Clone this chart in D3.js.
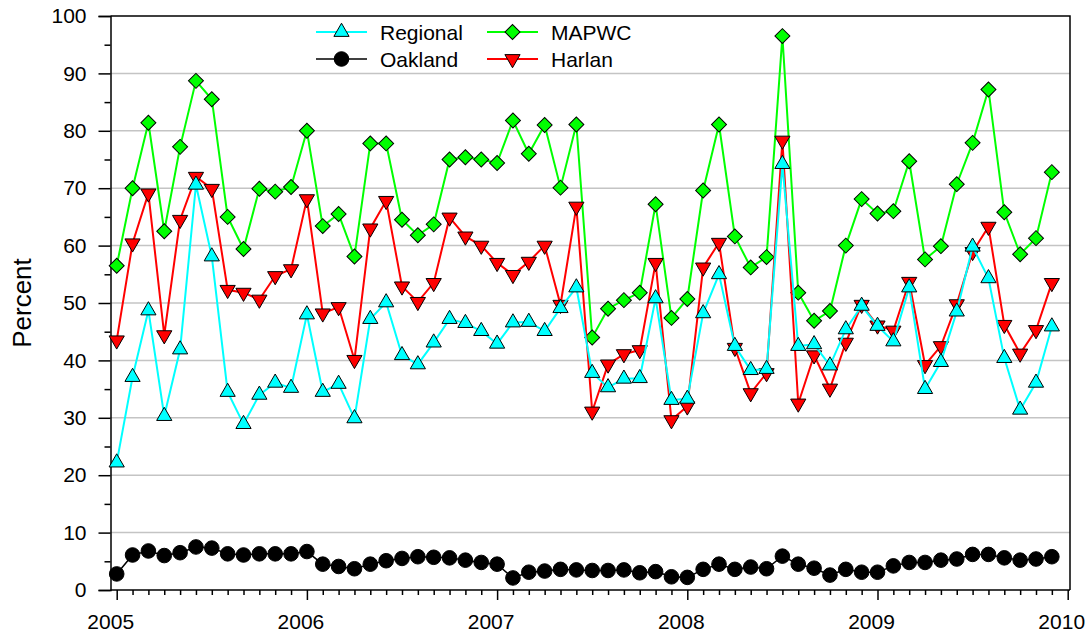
<!DOCTYPE html>
<html>
<head>
<meta charset="utf-8">
<script src="https://cdn.jsdelivr.net/npm/d3@7"></script>
<style>
  body { margin: 0; background: #fff; }
  svg { font-family: "Liberation Sans", Arial, sans-serif; }
</style>
</head>
<body>
<svg width="1091" height="635"></svg>
<script>
const svg = d3.select('svg');

// monthly values, Jan 2005 .. Dec 2009
const regional = [
  22.2, 37.1, 48.7, 30.3, 41.9, 70.6, 58.1, 34.5, 28.9, 34.0, 36.1, 35.2,
  48.0, 34.5, 35.9, 29.9, 47.2, 50.1, 40.9, 39.3, 43.1, 47.2, 46.5, 45.1,
  42.9, 46.6, 46.7, 45.1, 49.1, 52.7, 37.8, 35.3, 36.8, 36.9, 50.8, 33.1,
  33.3, 48.2, 55.0, 42.5, 38.3, 38.5, 74.2, 42.5, 42.8, 39.1, 45.4, 49.5,
  46.0, 43.3, 52.7, 35.0, 39.7, 48.5, 59.8, 54.3, 40.4, 31.4, 36.1, 45.9
];
const mapwc = [
  56.5, 70.0, 81.4, 62.5, 77.2, 88.7, 85.5, 65.0, 59.4, 69.9, 69.4, 70.2,
  80.0, 63.4, 65.5, 58.1, 77.8, 77.8, 64.5, 61.8, 63.7, 75.0, 75.4, 75.0,
  74.4, 81.8, 76.0, 81.0, 70.1, 81.1, 44.0, 49.0, 50.5, 51.8, 67.2, 47.4,
  50.7, 69.6, 81.1, 61.6, 56.2, 58.0, 96.5, 51.8, 46.9, 48.6, 60.0, 68.1,
  65.6, 66.0, 74.7, 57.6, 59.9, 70.7, 77.9, 87.2, 65.8, 58.5, 61.3, 72.8
];
const oakland = [
  2.8, 6.1, 6.8, 6.0, 6.5, 7.5, 7.3, 6.3, 6.1, 6.3, 6.3, 6.3,
  6.7, 4.5, 4.1, 3.7, 4.5, 5.1, 5.5, 5.8, 5.7, 5.6, 5.2, 4.8,
  4.5, 2.1, 3.1, 3.3, 3.6, 3.5, 3.4, 3.4, 3.5, 3.0, 3.2, 2.3,
  2.2, 3.6, 4.5, 3.6, 4.0, 3.7, 5.9, 4.5, 3.8, 2.6, 3.6, 3.1,
  3.1, 4.2, 4.8, 4.8, 5.2, 5.4, 6.2, 6.2, 5.6, 5.2, 5.4, 5.8
];
const harlan = [
  43.5, 60.4, 69.1, 44.4, 64.5, 72.0, 69.9, 52.3, 51.8, 50.6, 54.7, 55.9,
  68.1, 48.2, 49.3, 40.1, 63.0, 67.8, 52.9, 50.2, 53.5, 64.9, 61.6, 60.0,
  57.0, 54.9, 57.2, 60.0, 49.7, 66.8, 31.1, 39.3, 41.1, 41.8, 57.0, 29.6,
  32.0, 56.2, 60.5, 42.2, 34.3, 37.8, 78.3, 32.5, 40.9, 35.1, 43.1, 49.7,
  46.1, 45.2, 53.7, 39.2, 42.5, 49.8, 58.9, 63.3, 46.2, 41.2, 45.3, 53.5
];
const yearTicks = [2005, 2006, 2007, 2008, 2009, 2010];
const yTicks = [0, 10, 20, 30, 40, 50, 60, 70, 80, 90, 100];

const months = d3.range(regional.length).map(i => 2005 + i / 12);

const plot = { left: 110.5, right: 1070, top: 16, bottom: 590 };

const xScale = d3.scaleLinear().domain([2005, 2010]).range([116.7, 1067.7]);
const yScale = d3.scaleLinear().domain([0, 100]).range([plot.bottom, plot.top]);

// grid lines
svg.append('g')
  .selectAll('line')
  .data(yTicks.filter(d => d > 0 && d < 100))
  .join('line')
  .attr('x1', plot.left).attr('x2', plot.right)
  .attr('y1', d => yScale(d)).attr('y2', d => yScale(d))
  .attr('stroke', '#c4c4c4')
  .attr('stroke-width', 1.5);

// frame top + right
svg.append('path')
  .attr('d', `M${plot.left},${plot.top}H${plot.right}V${plot.bottom}`)
  .attr('fill', 'none')
  .attr('stroke', 'black')
  .attr('stroke-width', 1.5);

// y axis
const yAxis = d3.axisLeft(yScale).tickValues(yTicks).tickSize(12).tickPadding(12);
const yAxisG = svg.append('g')
  .attr('transform', `translate(${plot.left},0)`)
  .call(yAxis);
yAxisG.select('.domain').attr('stroke-width', 1.5);
yAxisG.selectAll('.tick line').attr('stroke-width', 1.5);
yAxisG.selectAll('.tick text').attr('font-size', 21).attr('font-family', '"Liberation Sans", Arial, sans-serif');

const yMinor = d3.axisLeft(yScale).tickValues(d3.range(5, 100, 10)).tickSize(6).tickFormat('');
svg.append('g')
  .attr('transform', `translate(${plot.left},0)`)
  .call(yMinor)
  .call(g => g.select('.domain').remove())
  .selectAll('.tick line').attr('stroke-width', 1.5);

// x axis
const xAxisG = svg.append('g')
  .attr('transform', `translate(0,${plot.bottom})`)
  .call(d3.axisBottom(xScale).tickValues(yearTicks).tickFormat(d3.format('d')).tickSize(10).tickPadding(14));
xAxisG.select('.domain').attr('d', `M${plot.left},0H${plot.right}`).attr('stroke-width', 1.5);
xAxisG.selectAll('.tick line').attr('stroke-width', 1.5);
xAxisG.selectAll('.tick text')
  .attr('font-size', 21)
  .attr('font-family', '"Liberation Sans", Arial, sans-serif')
  .attr('dx', -6.5);

const xMinor = d3.axisBottom(xScale)
  .tickValues(months.filter((d, i) => i % 12 !== 0))
  .tickSize(5).tickFormat('');
svg.append('g')
  .attr('transform', `translate(0,${plot.bottom})`)
  .call(xMinor)
  .call(g => g.select('.domain').remove())
  .selectAll('.tick line').attr('stroke-width', 1.5);

// y label
svg.append('text')
  .attr('transform', `translate(31,303) rotate(-90)`)
  .attr('text-anchor', 'middle')
  .attr('font-size', 26)
  .text('Percent');

// series
const series = [
  { name: 'Oakland', values: oakland, color: '#000000', marker: 'circle', width: 1.5 },
  { name: 'MAPWC', values: mapwc, color: '#00ff00', marker: 'diamond', width: 2 },
  { name: 'Harlan', values: harlan, color: '#ff0000', marker: 'down', width: 2 },
  { name: 'Regional', values: regional, color: '#00ffff', marker: 'up', width: 2 }
];

const markerPath = {
  circle: d3.symbol().type(d3.symbolCircle).size(Math.PI * 7.3 * 7.3)(),
  diamond: d3.symbol().type(d3.symbolSquare).size(112)(),
  up: d3.symbol().type(d3.symbolTriangle).size(100)(),
  down: d3.symbol().type(d3.symbolTriangle).size(100)()
};
const markerRot = { circle: 0, diamond: 45, up: 0, down: 180 };

const line = d3.line()
  .x((d, i) => xScale(months[i]))
  .y(d => yScale(d));

const drawMarker = (sel, s) => sel
  .attr('d', markerPath[s.marker])
  .attr('fill', s.color)
  .attr('stroke', 'black')
  .attr('stroke-width', 1);

series.forEach(s => {
  const g = svg.append('g');
  g.append('path')
    .attr('d', line(s.values))
    .attr('fill', 'none')
    .attr('stroke', s.color)
    .attr('stroke-width', s.width);
  g.selectAll('path.mark')
    .data(s.values)
    .join('path')
    .attr('class', 'mark')
    .attr('transform', (d, i) => `translate(${xScale(months[i])},${yScale(d)}) rotate(${markerRot[s.marker]})`)
    .call(drawMarker, s);
});

// legend
const legendItems = [
  { s: series[3], x: 316, y: 32 },
  { s: series[1], x: 487, y: 32 },
  { s: series[0], x: 316, y: 59 },
  { s: series[2], x: 487, y: 59 }
];
const lg = svg.append('g').selectAll('g')
  .data(legendItems)
  .join('g')
  .attr('transform', d => `translate(${d.x},${d.y})`);
lg.append('line')
  .attr('x1', 0).attr('x2', 51)
  .attr('stroke', d => d.s.color)
  .attr('stroke-width', d => d.s.width);
lg.append('path')
  .attr('transform', d => `translate(25.5,0) rotate(${markerRot[d.s.marker]})`)
  .each(function(d) { d3.select(this).call(drawMarker, d.s); });
lg.append('text')
  .attr('x', 64)
  .attr('y', 7.5)
  .attr('font-size', 21)
  .text(d => d.s.name);
</script>
</body>
</html>
